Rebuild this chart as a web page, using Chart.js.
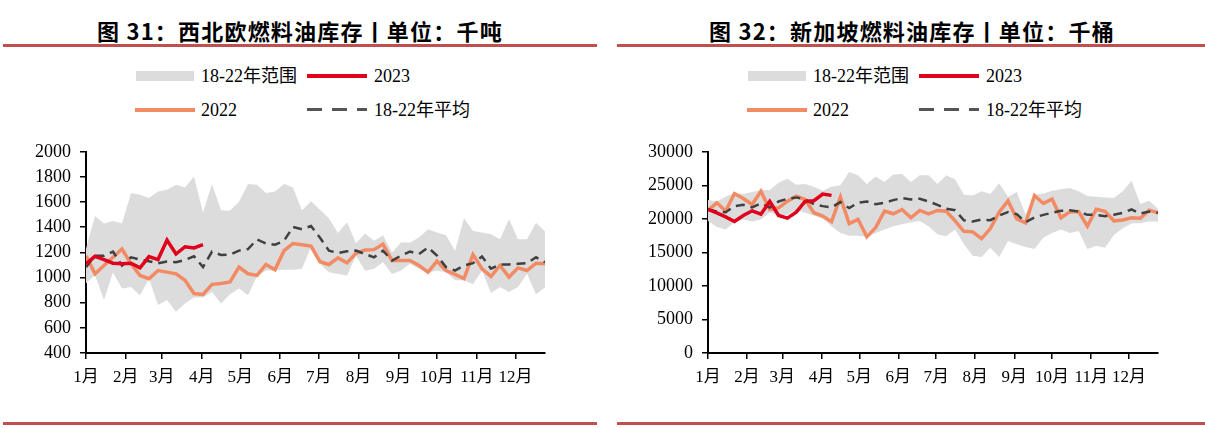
<!DOCTYPE html>
<html>
<head>
<meta charset="utf-8">
<script src="https://cdn.jsdelivr.net/npm/chart.js@4"></script>
<style>
  body { margin: 0; width: 1205px; height: 428px; background: #fff; position: relative; overflow: hidden;
         font-family: "Liberation Serif", "Noto Sans CJK SC", serif; color: #000; }
  .panel { position: absolute; top: 0; width: 600px; height: 428px; }
  .title { position: absolute; top: 14px; width: 600px; text-align: center; line-height: 28px; letter-spacing: 1.2px;
           font: bold 22px "Noto Sans CJK SC", sans-serif; }
  .rule { position: absolute; height: 3px; background: #C0504D; }
  .lg { position: absolute; font-size: 18px; line-height: 22px; white-space: nowrap; }
  .sw { position: absolute; }
  canvas { position: absolute; top: 132px; }
</style>
</head>
<body>
<div class="rule" style="left:3px;top:44px;width:594px"></div>
<div class="rule" style="left:617px;top:44px;width:588px"></div>
<div class="rule" style="left:3px;top:422px;width:594px"></div>
<div class="rule" style="left:617px;top:422px;width:588px"></div>

<div class="panel" style="left:0">
  <div class="title" style="left:0">图 31：西北欧燃料油库存丨单位：千吨</div>
</div>
<div class="panel" style="left:612px">
  <div class="title" style="left:0">图 32：新加坡燃料油库存丨单位：千桶</div>
</div>

<div id="legendL" class="panel" style="left:0"></div>
<div id="legendR" class="panel" style="left:612px"></div>

<canvas id="nwe" width="600" height="270" style="left:0"></canvas>
<canvas id="sg" width="600" height="270" style="left:605px"></canvas>

<script>
// 月份刻度（按每月第一天所在的周）
const monthLabels = ['1月', '2月', '3月', '4月', '5月', '6月', '7月', '8月', '9月', '10月', '11月', '12月'];
const monthStartDays = [0, 31, 59, 90, 120, 151, 181, 212, 243, 273, 304, 334];

// 西北欧燃料油库存（千吨），按周
const nweMin = [952, 1020, 821, 1043, 912, 925, 860, 991, 781, 821, 729, 794, 842, 842, 886, 794, 868, 912, 860, 1010,
  1056, 1056, 1062, 1062, 1070, 1240, 1110, 1042, 1029, 1016, 1173, 1055, 1069, 1121, 1029, 1056, 1109, 1069, 1040, 1056,
  1043, 978, 978, 946, 1056, 878, 925, 886, 925, 1030, 868, 920];
const nweMax = [1230, 1489, 1429, 1450, 1429, 1672, 1659, 1633, 1685, 1699, 1738, 1717, 1803, 1515, 1743, 1536, 1533, 1602, 1743, 1738,
  1672, 1685, 1743, 1717, 1533, 1607, 1540, 1470, 1355, 1440, 1272, 1350, 1292, 1337, 1200, 1279, 1279, 1318, 1384, 1358,
  1337, 1214, 1471, 1371, 1358, 1345, 1305, 1463, 1305, 1305, 1436, 1366];
const nwe2022 = [1174, 1030, 1096, 1161, 1227, 1109, 1017, 991, 1056, 1043, 1030, 978, 873, 865, 946, 952, 965, 1083, 1030, 1017,
  1104, 1062, 1214, 1271, 1261, 1250, 1126, 1104, 1156, 1117, 1193, 1219, 1222, 1266, 1135, 1135, 1135, 1096, 1043, 1130,
  1056, 1025, 991, 1182, 1070, 1009, 1096, 1004, 1077, 1056, 1114, 1109];
const nweAvg = [1083, 1174, 1174, 1206, 1096, 1161, 1143, 1130, 1114, 1127, 1122, 1140, 1169, 1083, 1206, 1180, 1182, 1214, 1227, 1303,
  1271, 1261, 1292, 1402, 1384, 1410, 1316, 1214, 1195, 1209, 1214, 1187, 1161, 1214, 1135, 1174, 1206, 1187, 1240, 1174,
  1083, 1056, 1096, 1114, 1167, 1070, 1104, 1104, 1109, 1114, 1161, 1122];
const nwe2023 = [1109, 1169, 1143, 1114, 1109, 1114, 1077, 1167, 1143, 1298, 1187, 1245, 1235, 1261];

// 新加坡燃料油库存（千桶），按周
const sgMin = [19700, 18800, 18400, 19500, 19900, 19600, 19900, 20900, 20500, 20600, 21300, 20900, 20500, 20000, 18900, 17900, 17500, 17500, 17300, 17900,
  18400, 18900, 19200, 19500, 19700, 18900, 17700, 17400, 18400, 16200, 14500, 14300, 15700, 14300, 16700, 16200, 15800, 15500, 17200, 17900,
  18400, 17900, 18200, 15500, 16000, 15700, 17600, 18600, 19300, 19400, 19600, 19600];
const sgMax = [22800, 22600, 23300, 23900, 23700, 24000, 24300, 24300, 25400, 26000, 25100, 25200, 24800, 24200, 24800, 25000, 27000, 26500, 25200, 26300,
  25500, 26600, 26700, 25500, 26500, 26500, 25200, 26500, 25900, 23600, 23500, 24100, 23700, 25300, 23300, 24000, 20600, 23600, 23800, 24200,
  24400, 24600, 24100, 23400, 23300, 23200, 23100, 24100, 25700, 22200, 22700, 21500];
const sg2022 = [21260, 22390, 21160, 23770, 23030, 22140, 24110, 21400, 21650, 22640, 23370, 22880, 20910, 20420, 19580, 23230, 19290, 19930, 17320, 18700,
  21160, 20760, 21400, 20170, 21260, 20760, 21260, 21130, 19700, 18140, 18060, 17050, 18550, 21000, 22680, 20000, 19420, 23480, 22300, 22940,
  20160, 21040, 21090, 18920, 21440, 21140, 19710, 19830, 20150, 20100, 21300, 20900];
const sgAvg = [21400, 21100, 21000, 21900, 22100, 21700, 22300, 21700, 22600, 23000, 23200, 22900, 22200, 21900, 21700, 22500, 21600, 22400, 22600, 22200,
  22400, 22800, 23100, 22900, 23000, 22600, 22100, 21500, 21300, 19800, 19600, 19900, 19800, 20500, 21000, 20700, 19500, 20200, 20600, 20900,
  21200, 21300, 21100, 20600, 20600, 20400, 20600, 20900, 21400, 20800, 21100, 20900];
const sg2023 = [21400, 20900, 20300, 19600, 20500, 21200, 20700, 22600, 20500, 20100, 21000, 22600, 22700, 23700, 23500];

const RANGE = '#DCDCDC';
const RED = '#E0001B';
const ORANGE = '#F28A64';
const DASH = '#404040';
const tickFont = { family: '"Liberation Serif", "Noto Sans CJK SC", serif', size: 18 };

// 图例
function legend(id) {
  const box = document.getElementById(id);
  box.innerHTML =
    '<div class="sw" style="left:136px;top:71px;width:58px;height:10px;background:' + RANGE + '"></div>' +
    '<div class="lg" style="left:201px;top:65px">18-22年范围</div>' +
    '<div class="sw" style="left:307px;top:74px;width:60px;height:4px;background:' + RED + '"></div>' +
    '<div class="lg" style="left:374px;top:65px">2023</div>' +
    '<div class="sw" style="left:135px;top:108px;width:60px;height:4px;background:' + ORANGE + '"></div>' +
    '<div class="lg" style="left:201px;top:99px">2022</div>' +
    '<div class="sw" style="left:307px;top:108px;width:60px;height:3px;background:repeating-linear-gradient(to right,#555 0 15px,transparent 15px 25px)"></div>' +
    '<div class="lg" style="left:374px;top:99px">18-22年平均</div>';
}
legend('legendL');
legend('legendR');

function pts(arr) {
  return arr.map((v, i) => ({ x: i, y: v }));
}

function buildChart(id, s) {
  return new Chart(document.getElementById(id), {
    type: 'line',
    data: {
      datasets: [
        { data: pts(s.min), borderColor: 'rgba(0,0,0,0)', borderWidth: 1, pointRadius: 0, fill: false, order: 5 },
        { data: pts(s.max), borderColor: 'rgba(0,0,0,0)', borderWidth: 1, pointRadius: 0, fill: '-1', backgroundColor: RANGE, order: 4 },
        { data: pts(s.y2022), borderColor: ORANGE, borderWidth: 3.5, pointRadius: 0, fill: false, order: 3 },
        { data: pts(s.avg), borderColor: DASH, borderWidth: 2.5, borderDash: [9, 6], pointRadius: 0, fill: false, order: 2 },
        { data: pts(s.y2023), borderColor: RED, borderWidth: 3.5, pointRadius: 0, fill: false, order: 1 }
      ]
    },
    options: {
      responsive: false,
      animation: false,
      layout: { padding: { top: 2, right: s.padRight, left: 0, bottom: 0 } },
      plugins: { legend: { display: false }, tooltip: { enabled: false } },
      scales: {
        x: {
          type: 'linear', min: 0, max: 51,
          afterBuildTicks: sc => { sc.ticks = monthStartDays.map(d => ({ value: d / 7 })); },
          afterFit: sc => { sc.height = 49; },
          ticks: { autoSkip: false, maxRotation: 0, padding: 8, color: '#000', font: { ...tickFont, size: 17 },
                   callback: (v, i) => monthLabels[i] },
          grid: { drawOnChartArea: false, tickLength: 6, color: '#000', lineWidth: 1.5 },
          border: { color: '#000', width: 2 }
        },
        y: {
          min: s.yMin, max: s.yMax,
          afterFit: sc => { sc.width = s.axisLeft; },
          ticks: { stepSize: s.yStep, autoSkip: false, padding: 9, color: '#000', font: tickFont,
                   callback: v => String(v) },
          grid: { drawOnChartArea: false, tickLength: 6, color: '#000', lineWidth: 1.5 },
          border: { color: '#000', width: 2 }
        }
      }
    }
  });
}

buildChart('nwe', { min: nweMin, max: nweMax, y2022: nwe2022, avg: nweAvg, y2023: nwe2023,
  yMin: 400, yMax: 2000, yStep: 200, axisLeft: 86, padRight: 55 });
buildChart('sg', { min: sgMin, max: sgMax, y2022: sg2022, avg: sgAvg, y2023: sg2023,
  yMin: 0, yMax: 30000, yStep: 5000, axisLeft: 103, padRight: 47 });
</script>
</body>
</html>
